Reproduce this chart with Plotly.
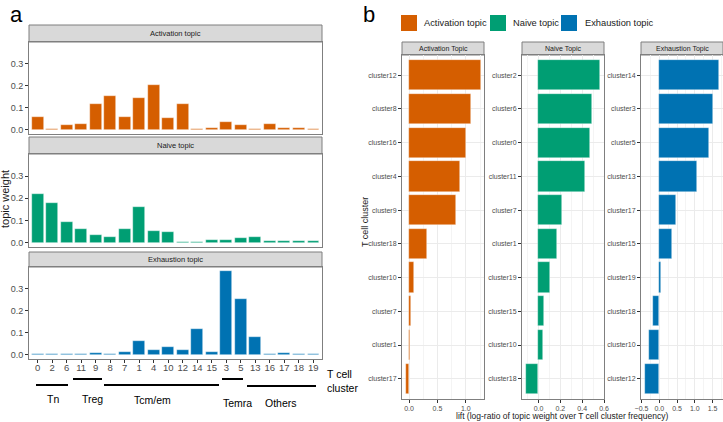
import plotly.graph_objects as go

W, H = 723, 422
FONT = "Arial, Liberation Sans, sans-serif"

# ---------------- data: panel a ----------------
clusters_a = ["0", "2", "6", "11", "9", "8", "7", "1", "4", "10", "12", "14", "15",
              "3", "5", "13", "16", "17", "18", "19"]
activation_w = [0.057, 0.002, 0.021, 0.026, 0.116, 0.154, 0.057, 0.143, 0.204, 0.054,
                0.119, 0.002, 0.008, 0.034, 0.022, 0.002, 0.026, 0.008, 0.008, 0.006]
naive_w = [0.221, 0.179, 0.095, 0.061, 0.035, 0.025, 0.064, 0.160, 0.054, 0.050,
           0.002, 0.002, 0.012, 0.012, 0.020, 0.025, 0.009, 0.009, 0.006, 0.006]
exhaustion_w = [0.002, 0.004, 0.002, 0.002, 0.009, 0.004, 0.015, 0.061, 0.020, 0.036,
                0.023, 0.117, 0.015, 0.380, 0.255, 0.082, 0.002, 0.009, 0.004, 0.004]
groups = ["Tn", "Treg", "Tcm/em", "Temra", "Others"]

# ---------------- data: panel b ----------------
act_clusters = ["cluster12", "cluster8", "cluster16", "cluster4", "cluster9",
                "cluster18", "cluster10", "cluster7", "cluster1", "cluster17"]
act_lift = [1.26, 1.09, 1.00, 0.89, 0.835, 0.31, 0.083, 0.035, 0.025, -0.05]
nai_clusters = ["cluster2", "cluster6", "cluster0", "cluster11", "cluster7",
                "cluster1", "cluster19", "cluster15", "cluster10", "cluster18"]
nai_lift = [0.566, 0.486, 0.47, 0.425, 0.211, 0.165, 0.104, 0.055, 0.037, -0.117]
exh_clusters = ["cluster14", "cluster3", "cluster5", "cluster13", "cluster17",
                "cluster15", "cluster19", "cluster18", "cluster10", "cluster12"]
exh_lift = [1.69, 1.52, 1.41, 1.06, 0.47, 0.36, 0.04, -0.19, -0.29, -0.41]

ORANGE, GREEN, BLUE = "#D55E00", "#009E73", "#0072B2"
BORDER = "#7F7F7F"
STRIP = "#D9D9D9"
TICKC = "#4D4D4D"


def fx(x):
    return x / W


def fy(y):
    return 1 - y / H


fig = go.Figure()

# ---- panel a bars ----
a_rows = [(activation_w, ORANGE, "Activation topic", 42, 134, 25),
          (naive_w, GREEN, "Naive topic", 154, 247, 137),
          (exhaustion_w, BLUE, "Exhaustion topic", 267, 359, 252)]
shapes = []
annotations = []
for i, (vals, col, title, top, bot, stop) in enumerate(a_rows):
    k = "" if i == 0 else str(i + 1)
    fig.add_trace(go.Bar(x=clusters_a, y=vals, marker=dict(color=col, line=dict(color="rgba(255,255,255,0.7)", width=0.6)),
                         width=0.8, xaxis="x" + k, yaxis="y" + k, showlegend=False))
    last = (i == 2)
    fig.update_layout(**{
        "xaxis" + k: dict(domain=[fx(29), fx(322)], anchor="y" + k, type="category",
                          categoryorder="array", categoryarray=clusters_a, automargin=False,
                          range=[-0.6, 19.6], showline=True, mirror=True, linecolor=BORDER,
                          linewidth=1, showgrid=False, zeroline=False,
                          showticklabels=last, ticks="outside" if last else "",
                          ticklen=3, tickcolor="#333333", ticklabelstandoff=-3,
                          tickfont=dict(size=9.5, color=TICKC, family=FONT)),
        "yaxis" + k: dict(domain=[fy(bot), fy(top)], anchor="x" + k, range=[-0.019, 0.399],
                          tickvals=[0, 0.1, 0.2, 0.3], tickformat=".1f", automargin=False,
                          showline=True, mirror=True, linecolor=BORDER, linewidth=1,
                          showgrid=False, zeroline=False, ticks="outside", ticklen=3,
                          tickcolor="#333333",
                          tickfont=dict(size=9, color=TICKC, family=FONT)),
    })
    shapes.append(dict(type="rect", xref="paper", yref="paper", x0=fx(29), x1=fx(322),
                       y0=fy(top), y1=fy(stop), fillcolor=STRIP,
                       line=dict(color=BORDER, width=1), layer="below"))
    annotations.append(dict(x=fx(175.5), y=fy((top + stop) / 2), xref="paper", yref="paper",
                            text=title, showarrow=False, xanchor="center", yanchor="middle",
                            font=dict(size=7.5, color="#1A1A1A", family=FONT)))

# ---- panel b bars ----
b_panels = [(act_clusters, act_lift, ORANGE, "Activation Topic", 402, 484, [-0.124, 1.32], 0.5),
            (nai_clusters, nai_lift, GREEN, "Naive Topic", 522, 604, [-0.151, 0.60], 0.2),
            (exh_clusters, exh_lift, BLUE, "Exhaustion Topic", 641, 723, [-0.515, 1.795], 0.5)]
for j, (cats, vals, col, title, x0, x1, rng, dt) in enumerate(b_panels):
    k = str(j + 4)
    fig.add_trace(go.Bar(y=cats, x=vals, orientation="h",
                         marker=dict(color=col, line=dict(color="rgba(255,255,255,0.6)", width=0.6)),
                         width=0.9, xaxis="x" + k, yaxis="y" + k, showlegend=False))
    fig.update_layout(**{
        "xaxis" + k: dict(domain=[fx(x0), fx(x1)], anchor="y" + k, range=rng,
                          dtick=dt, tick0=0, tickformat=".1f", automargin=False,
                          showline=True, mirror=True, linecolor=BORDER, linewidth=1,
                          showgrid=True, gridcolor="#EBEBEB", gridwidth=0.8, zeroline=False,
                          minor=dict(dtick=dt / 2, tick0=0, showgrid=True, gridcolor="#F4F4F4",
                                     gridwidth=0.5),
                          ticks="outside", ticklen=3, tickcolor="#333333",
                          tickfont=dict(size=7, color=TICKC, family=FONT)),
        "yaxis" + k: dict(domain=[fy(399), fy(55)], anchor="x" + k, type="category",
                          categoryorder="array", categoryarray=cats[::-1], automargin=False,
                          range=[-0.6, 9.6], showline=True, mirror=True, linecolor=BORDER,
                          linewidth=1, showgrid=True, gridcolor="#EBEBEB", gridwidth=0.8,
                          zeroline=False, ticks="outside", ticklen=3, tickcolor="#333333",
                          tickfont=dict(size=7, color=TICKC, family=FONT)),
    })
    shapes.append(dict(type="rect", xref="paper", yref="paper", x0=fx(x0), x1=fx(x1),
                       y0=fy(55), y1=fy(42), fillcolor=STRIP,
                       line=dict(color=BORDER, width=1), layer="below"))
    annotations.append(dict(x=fx((x0 + x1) / 2), y=fy(48.5), xref="paper", yref="paper",
                            text=title, showarrow=False, xanchor="center", yanchor="middle",
                            font=dict(size=7, color="#1A1A1A", family=FONT)))

# ---- legend (panel b) ----
leg = [("Activation topic", ORANGE, 401, 422), ("Naive topic", GREEN, 490, 511),
       ("Exhaustion topic", BLUE, 561, 583)]
for name, col, sx, tx in leg:
    shapes.append(dict(type="rect", xref="paper", yref="paper", x0=fx(sx), x1=fx(sx + 16),
                       y0=fy(31), y1=fy(15), fillcolor=col, line=dict(width=0)))
    annotations.append(dict(x=fx(tx), y=fy(23), xref="paper", yref="paper", text=name,
                            showarrow=False, xanchor="left", yanchor="middle",
                            font=dict(size=9.3, color="#1A1A1A", family=FONT)))

# ---- group lines under panel a ----
group_lines = [(36, 68, 385), (73, 102, 379), (104, 219, 385), (222, 243, 379), (247, 316, 386)]
group_lbl = [(53, 399), (92, 399), (152, 400), (237, 403), (281, 403)]
for (a0, a1, yy), (lx, ly), g in zip(group_lines, group_lbl, groups):
    shapes.append(dict(type="line", xref="paper", yref="paper", x0=fx(a0), x1=fx(a1),
                       y0=fy(yy), y1=fy(yy), line=dict(color="black", width=2)))
    annotations.append(dict(x=fx(lx), y=fy(ly), xref="paper", yref="paper", text=g,
                            showarrow=False, xanchor="center", yanchor="middle",
                            font=dict(size=10.5, color="black", family=FONT)))

# ---- other text ----
annotations += [
    dict(x=fx(325), y=fy(374), xref="paper", yref="paper", text="T cell", showarrow=False,
         xanchor="left", yanchor="middle", font=dict(size=10.5, color="black", family=FONT)),
    dict(x=fx(325), y=fy(388), xref="paper", yref="paper", text="cluster", showarrow=False,
         xanchor="left", yanchor="middle", font=dict(size=10.5, color="black", family=FONT)),
    dict(x=fx(5), y=fy(199), xref="paper", yref="paper", text="topic weight", showarrow=False,
         textangle=-90, xanchor="center", yanchor="middle",
         font=dict(size=11, color="#1A1A1A", family=FONT)),
    dict(x=fx(8), y=1, xref="paper", yref="paper", text="a", showarrow=False,
         xanchor="left", yanchor="top", font=dict(size=22, color="black", family=FONT)),
    dict(x=fx(361), y=1, xref="paper", yref="paper", text="b", showarrow=False,
         xanchor="left", yanchor="top", font=dict(size=22, color="black", family=FONT)),
    dict(x=fx(365), y=fy(222), xref="paper", yref="paper", text="T cell cluster",
         showarrow=False, textangle=-90, xanchor="center", yanchor="middle",
         font=dict(size=9, color="#1A1A1A", family=FONT)),
    dict(x=fx(562), y=fy(416), xref="paper", yref="paper",
         text="lift (log-ratio of topic weight over T cell cluster frequency)",
         showarrow=False, xanchor="center", yanchor="middle",
         font=dict(size=8.5, color="#1A1A1A", family=FONT)),
]

fig.update_layout(width=W, height=H, autosize=False, margin=dict(l=0, r=0, t=0, b=0),
                  paper_bgcolor="white", plot_bgcolor="white", bargap=0,
                  shapes=shapes, annotations=annotations, font=dict(family=FONT))
fig.write_html("out.html", config={"displayModeBar": False},
               post_script="document.body.style.margin='0';document.body.style.overflow='hidden';")
